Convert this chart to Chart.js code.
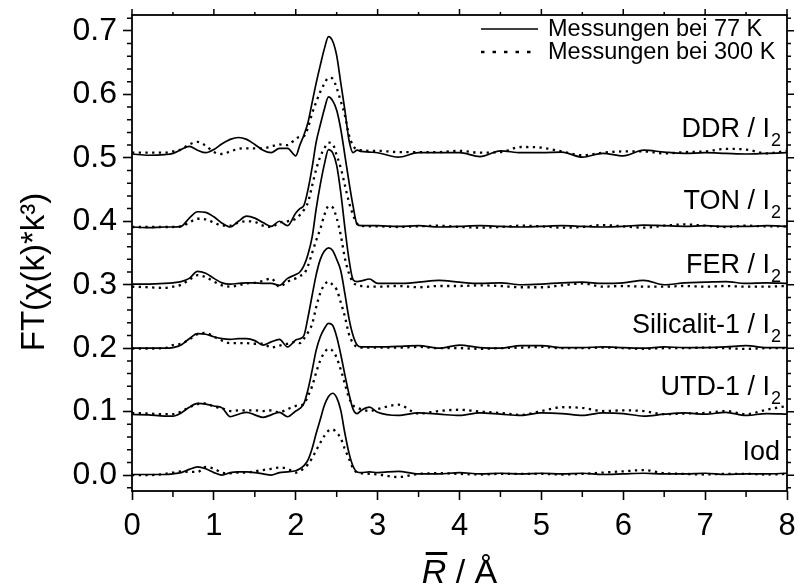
<!DOCTYPE html>
<html>
<head>
<meta charset="utf-8">
<script src="https://cdn.jsdelivr.net/npm/chart.js@4.4.0/dist/chart.umd.min.js"></script>
<style>
  html, body { margin: 0; padding: 0; background: #fff; }
  canvas { display: block; }
</style>
</head>
<body>
<canvas id="ftChart" width="797" height="587"></canvas>
<script>
// R grid (Å) shared by all curves
const rValues = [0, 0.2, 0.4, 0.5, 0.6, 0.7, 0.8, 0.9, 1.0, 1.1, 1.2, 1.3, 1.4, 1.5, 1.6, 1.7, 1.8, 1.9, 2.0,
  2.05, 2.1, 2.15, 2.2, 2.25, 2.3, 2.35, 2.4, 2.45, 2.5, 2.55, 2.6, 2.65, 2.7, 2.75, 2.8,
  2.9, 3.0,
  3.25, 3.5, 3.75, 4.0, 4.25, 4.5, 4.75, 5.0, 5.25, 5.5, 5.75, 6.0, 6.25, 6.5, 6.75, 7.0, 7.25, 7.5, 7.75, 8.0];

const ddr77 = [0.506, 0.504, 0.505, 0.507, 0.513, 0.518, 0.512, 0.508, 0.513, 0.522, 0.529, 0.532, 0.529, 0.521, 0.512, 0.508, 0.515, 0.515, 0.503,
  0.520, 0.536, 0.556, 0.587, 0.618, 0.646, 0.672, 0.691, 0.684, 0.661, 0.618, 0.575, 0.528, 0.508, 0.512, 0.510,
  0.509, 0.508,
  0.501, 0.508, 0.508, 0.508, 0.502, 0.511, 0.508, 0.508, 0.509, 0.501, 0.507, 0.503, 0.512, 0.509, 0.507, 0.508, 0.507, 0.506, 0.507, 0.508];
const ddr300 = [0.508, 0.508, 0.508, 0.510, 0.513, 0.521, 0.525, 0.519, 0.509, 0.506, 0.510, 0.514, 0.515, 0.515, 0.515, 0.518, 0.521, 0.520, 0.530,
  0.533, 0.534, 0.548, 0.570, 0.588, 0.604, 0.617, 0.626, 0.625, 0.610, 0.589, 0.567, 0.536, 0.519, 0.513, 0.512,
  0.511, 0.511,
  0.509, 0.509, 0.509, 0.511, 0.508, 0.509, 0.517, 0.516, 0.510, 0.504, 0.508, 0.510, 0.510, 0.507, 0.509, 0.510, 0.514, 0.513, 0.507, 0.511];

const ton77 = [0.391, 0.390, 0.391, 0.391, 0.392, 0.405, 0.415, 0.414, 0.407, 0.397, 0.391, 0.400, 0.408, 0.405, 0.398, 0.392, 0.400, 0.393, 0.413,
  0.420, 0.425, 0.450, 0.485, 0.525, 0.552, 0.577, 0.596, 0.590, 0.575, 0.545, 0.504, 0.462, 0.424, 0.395, 0.393,
  0.393, 0.393,
  0.392, 0.393, 0.391, 0.392, 0.393, 0.392, 0.391, 0.392, 0.393, 0.392, 0.391, 0.392, 0.394, 0.393, 0.392, 0.393, 0.392, 0.392, 0.393, 0.392];
const ton300 = [0.391, 0.391, 0.391, 0.391, 0.392, 0.398, 0.404, 0.403, 0.398, 0.393, 0.393, 0.398, 0.400, 0.399, 0.393, 0.391, 0.398, 0.400, 0.404,
  0.410, 0.418, 0.430, 0.456, 0.482, 0.502, 0.515, 0.524, 0.522, 0.504, 0.484, 0.457, 0.430, 0.410, 0.396, 0.393,
  0.392, 0.392,
  0.391, 0.392, 0.393, 0.391, 0.390, 0.391, 0.393, 0.392, 0.390, 0.391, 0.394, 0.392, 0.390, 0.393, 0.395, 0.393, 0.391, 0.393, 0.392, 0.392];

const fer77 = [0.301, 0.301, 0.302, 0.303, 0.305, 0.310, 0.321, 0.318, 0.310, 0.303, 0.301, 0.302, 0.303, 0.303, 0.302, 0.302, 0.299, 0.310, 0.316,
  0.320, 0.330, 0.348, 0.375, 0.420, 0.458, 0.490, 0.513, 0.508, 0.488, 0.445, 0.390, 0.340, 0.308, 0.305, 0.306,
  0.309, 0.302,
  0.302, 0.304, 0.307, 0.304, 0.302, 0.303, 0.300, 0.301, 0.303, 0.304, 0.302, 0.303, 0.307, 0.300, 0.303, 0.304, 0.305, 0.302, 0.303, 0.302];
const fer300 = [0.297, 0.296, 0.295, 0.297, 0.300, 0.308, 0.315, 0.312, 0.305, 0.299, 0.297, 0.299, 0.302, 0.303, 0.306, 0.310, 0.297, 0.305, 0.310,
  0.314, 0.317, 0.330, 0.350, 0.370, 0.388, 0.410, 0.424, 0.422, 0.405, 0.378, 0.342, 0.318, 0.304, 0.299, 0.298,
  0.297, 0.297,
  0.298, 0.296, 0.298, 0.298, 0.299, 0.298, 0.296, 0.296, 0.299, 0.302, 0.297, 0.298, 0.297, 0.297, 0.298, 0.297, 0.298, 0.297, 0.297, 0.298];

const sil77 = [0.200, 0.200, 0.200, 0.201, 0.205, 0.215, 0.223, 0.222, 0.218, 0.215, 0.214, 0.215, 0.215, 0.212, 0.205, 0.210, 0.214, 0.202, 0.213,
  0.215, 0.220, 0.249, 0.283, 0.316, 0.340, 0.353, 0.358, 0.354, 0.340, 0.322, 0.286, 0.247, 0.220, 0.205, 0.202,
  0.202, 0.202,
  0.203, 0.204, 0.200, 0.205, 0.201, 0.200, 0.204, 0.204, 0.201, 0.201, 0.202, 0.201, 0.200, 0.202, 0.201, 0.201, 0.202, 0.204, 0.201, 0.201];
const sil300 = [0.1995, 0.1995, 0.200, 0.205, 0.207, 0.214, 0.222, 0.224, 0.218, 0.212, 0.208, 0.208, 0.208, 0.207, 0.207, 0.201, 0.204, 0.207, 0.210,
  0.208, 0.215, 0.225, 0.238, 0.265, 0.287, 0.300, 0.305, 0.300, 0.292, 0.272, 0.250, 0.222, 0.208, 0.202, 0.201,
  0.201, 0.201,
  0.201, 0.202, 0.200, 0.200, 0.199, 0.200, 0.201, 0.202, 0.200, 0.200, 0.201, 0.200, 0.199, 0.200, 0.200, 0.201, 0.200, 0.199, 0.200, 0.200];

const utd77 = [0.0955, 0.095, 0.093, 0.093, 0.098, 0.107, 0.113, 0.112, 0.109, 0.106, 0.092, 0.096, 0.099, 0.095, 0.091, 0.095, 0.099, 0.092, 0.101,
  0.105, 0.113, 0.135, 0.165, 0.197, 0.218, 0.231, 0.239, 0.236, 0.218, 0.190, 0.158, 0.128, 0.104, 0.097, 0.102,
  0.107, 0.099,
  0.094, 0.098, 0.096, 0.094, 0.098, 0.096, 0.094, 0.098, 0.097, 0.094, 0.098, 0.097, 0.093, 0.096, 0.098, 0.096, 0.099, 0.094, 0.097, 0.096];
const utd300 = [0.098, 0.097, 0.096, 0.096, 0.100, 0.107, 0.112, 0.113, 0.108, 0.105, 0.101, 0.102, 0.102, 0.102, 0.101, 0.102, 0.099, 0.104, 0.109,
  0.110, 0.112, 0.125, 0.140, 0.162, 0.181, 0.193, 0.199, 0.196, 0.185, 0.166, 0.144, 0.122, 0.110, 0.106, 0.104,
  0.101, 0.104,
  0.111, 0.097, 0.101, 0.103, 0.100, 0.098, 0.095, 0.101, 0.107, 0.106, 0.101, 0.102, 0.101, 0.096, 0.097, 0.098, 0.101, 0.096, 0.103, 0.109];

const iod77 = [0.001, 0.001, 0.001, 0.002, 0.004, 0.009, 0.013, 0.010, 0.004, 0.000, 0.004, 0.005, 0.005, 0.004, 0.002, 0.000, 0.004, 0.005, 0.007,
  0.010, 0.015, 0.024, 0.042, 0.066, 0.088, 0.110, 0.124, 0.129, 0.122, 0.102, 0.066, 0.035, 0.014, 0.005, 0.004,
  0.005, 0.004,
  0.006, 0.002, 0.002, 0.004, 0.002, 0.003, 0.002, 0.003, 0.002, 0.003, 0.001, 0.002, 0.003, 0.002, 0.002, 0.003, 0.001, 0.002, 0.002, 0.003];
const iod300 = [0.000, 0.000, 0.002, 0.004, 0.006, 0.005, 0.005, 0.013, 0.010, 0.004, 0.003, 0.004, 0.004, 0.006, 0.008, 0.010, 0.012, 0.010, 0.004,
  0.006, 0.011, 0.017, 0.027, 0.039, 0.051, 0.062, 0.070, 0.072, 0.067, 0.058, 0.041, 0.026, 0.011, 0.004, 0.003,
  0.002, 0.001,
  -0.003, 0.002, 0.003, 0.002, 0.001, 0.002, 0.002, 0.002, 0.001, 0.002, 0.004, 0.006, 0.008, 0.003, 0.002, 0.001, 0.002, 0.002, 0.001, 0.002];

const sampleNames = ['DDR', 'TON', 'FER', 'Silicalit-1', 'UTD-1', 'Iod'];
const series77 = [ddr77, ton77, fer77, sil77, utd77, iod77];
const series300 = [ddr300, ton300, fer300, sil300, utd300, iod300];
const legendLabels = ['Messungen bei 77 K', 'Messungen bei 300 K'];
const xTickValues = [0, 1, 2, 3, 4, 5, 6, 7, 8];
const yTickValues = [0.0, 0.1, 0.2, 0.3, 0.4, 0.5, 0.6, 0.7];

const FONT = "'Liberation Sans', Arial, Helvetica, sans-serif";
const solidStyle = { borderWidth: 1.7, borderDash: [], legendDash: [] };
const dottedStyle = { borderWidth: 2.3, borderDash: [2.3, 4.4], legendDash: [3.5, 8] };

// where each sample name sits (label baseline, in y units) – layout only
const labelBaselines = [0.532, 0.419, 0.318, 0.224, 0.126, 0.024];

function toPoints(values) {
    return values.map((v, i) => ({ x: rValues[i], y: v }));
}

let datasets = [];
sampleNames.forEach((name, i) => {
    datasets.push({
        label: name + ' 77 K',
        data: toPoints(series77[i]),
        borderColor: '#000',
        borderWidth: solidStyle.borderWidth,
        borderDash: solidStyle.borderDash,
        pointRadius: 0,
        fill: false,
        cubicInterpolationMode: 'monotone'
    });
    datasets.push({
        label: name + ' 300 K',
        data: toPoints(series300[i]),
        borderColor: '#000',
        borderWidth: dottedStyle.borderWidth,
        borderDash: dottedStyle.borderDash,
        borderCapStyle: 'butt',
        pointRadius: 0,
        fill: false,
        cubicInterpolationMode: 'monotone'
    });
});

function drawSubLabel(ctx, main, sub, xRight, baseline) {
    ctx.font = '27px ' + FONT;
    ctx.textBaseline = 'alphabetic';
    if (sub) {
        ctx.font = '18px ' + FONT;
        let subW = ctx.measureText(sub).width;
        ctx.textAlign = 'left';
        ctx.fillText(sub, xRight - subW, baseline + 9);
        ctx.font = '27px ' + FONT;
        ctx.textAlign = 'right';
        ctx.fillText(main, xRight - subW - 1, baseline);
    } else {
        ctx.textAlign = 'right';
        ctx.fillText(main, xRight, baseline);
    }
}

const decorations = {
    id: 'decorations',
    afterDraw(chart) {
        const ctx = chart.ctx;
        const a = chart.chartArea;
        const xs = chart.scales.x;
        const ys = chart.scales.y;
        ctx.save();
        ctx.strokeStyle = '#000';
        ctx.fillStyle = '#000';

        // frame
        ctx.lineWidth = 1.8;
        ctx.strokeRect(a.left, a.top, a.right - a.left, a.bottom - a.top);

        // minor ticks left/bottom, mirrored ticks top/right
        ctx.lineWidth = 1.5;
        ctx.beginPath();
        for (let k = -1; k <= 36; k++) {
            let py = ys.getPixelForValue(k * 0.02);
            if (py < a.top || py > a.bottom) continue;
            let major = k % 5 === 0;
            if (!major) {
                ctx.moveTo(a.left, py); ctx.lineTo(a.left - 5, py);
            }
            ctx.moveTo(a.right, py); ctx.lineTo(a.right + (major ? 7 : 4), py);
        }
        for (let k = 0; k <= 16; k++) {
            let px = xs.getPixelForValue(k * 0.5);
            let major = k % 2 === 0;
            if (!major) {
                ctx.moveTo(px, a.bottom); ctx.lineTo(px, a.bottom + 6);
            }
            ctx.moveTo(px, a.top); ctx.lineTo(px, a.top - (major ? 6 : 3));
        }
        ctx.stroke();

        // sample names
        sampleNames.forEach((name, i) => {
            let by = ys.getPixelForValue(labelBaselines[i]);
            if (name === 'Iod') drawSubLabel(ctx, name, null, a.right - 7, by);
            else drawSubLabel(ctx, name + ' / I', '2', a.right - 6, by);
        });

        // legend
        const legX0 = a.left + 349, legX1 = a.left + 406;
        [solidStyle, dottedStyle].forEach((st, i) => {
            let cy = 29 + i * 23;
            ctx.save();
            ctx.lineWidth = st.borderWidth;
            ctx.setLineDash(st.legendDash);
            ctx.beginPath();
            ctx.moveTo(legX0, cy); ctx.lineTo(legX1, cy);
            ctx.stroke();
            ctx.restore();
            ctx.font = '23.5px ' + FONT;
            ctx.textAlign = 'left';
            ctx.textBaseline = 'middle';
            ctx.fillText(legendLabels[i], legX1 + 10, cy + 1);
        });

        // y title
        ctx.save();
        ctx.translate(44, 272);
        ctx.rotate(-Math.PI / 2);
        ctx.font = '33px ' + FONT;
        ctx.textAlign = 'center';
        ctx.textBaseline = 'alphabetic';
        ctx.fillText('FT(\u03C7(k)*k\u00B3)', 0, 0);
        ctx.restore();

        // x title: R with overbar, then " / Å"
        ctx.textBaseline = 'alphabetic';
        ctx.textAlign = 'left';
        ctx.font = 'italic 34px ' + FONT;
        let rW = ctx.measureText('R').width;
        ctx.font = '34px ' + FONT;
        let restW = ctx.measureText(' / \u00C5').width;
        let x0 = (a.left + a.right) / 2 - (rW + restW) / 2;
        let base = 583;
        ctx.font = 'italic 34px ' + FONT;
        ctx.fillText('R', x0, base);
        ctx.fillRect(x0 + 4, base - 31, rW - 3, 3);
        ctx.font = '34px ' + FONT;
        ctx.fillText(' / \u00C5', x0 + rW, base);

        ctx.restore();
    }
};

const ctx = document.getElementById('ftChart').getContext('2d');
window.chart = new Chart(ctx, {
    type: 'line',
    data: { datasets: datasets },
    options: {
        responsive: false,
        animation: false,
        devicePixelRatio: 1,
        layout: { padding: { left: 0, right: 10, top: 15, bottom: 0 } },
        scales: {
            x: {
                type: 'linear',
                min: 0,
                max: 8,
                afterFit: s => { s.height = 96; s.paddingLeft = 0; s.paddingRight = 0; },
                afterBuildTicks: s => { s.ticks = xTickValues.map(v => ({ value: v })); },
                ticks: { color: '#000', font: { family: FONT, size: 31 }, padding: 8, maxRotation: 0 },
                grid: { drawOnChartArea: false, drawTicks: true, tickLength: 9, tickWidth: 1.6, tickColor: '#000' },
                border: { display: false },
                title: { display: false }
            },
            y: {
                type: 'linear',
                min: -0.025,
                max: 0.725,
                afterFit: s => { s.width = 132; s.paddingTop = 0; s.paddingBottom = 0; },
                afterBuildTicks: s => { s.ticks = yTickValues.map(v => ({ value: v })); },
                ticks: { color: '#000', font: { family: FONT, size: 32, lineHeight: 0.8 }, padding: 6, callback: v => v.toFixed(1) },
                grid: { drawOnChartArea: false, drawTicks: true, tickLength: 9, tickWidth: 1.6, tickColor: '#000' },
                border: { display: false },
                title: { display: false }
            }
        },
        plugins: {
            legend: { display: false },
            tooltip: { enabled: false }
        }
    },
    plugins: [decorations]
});
</script>
</body>
</html>
